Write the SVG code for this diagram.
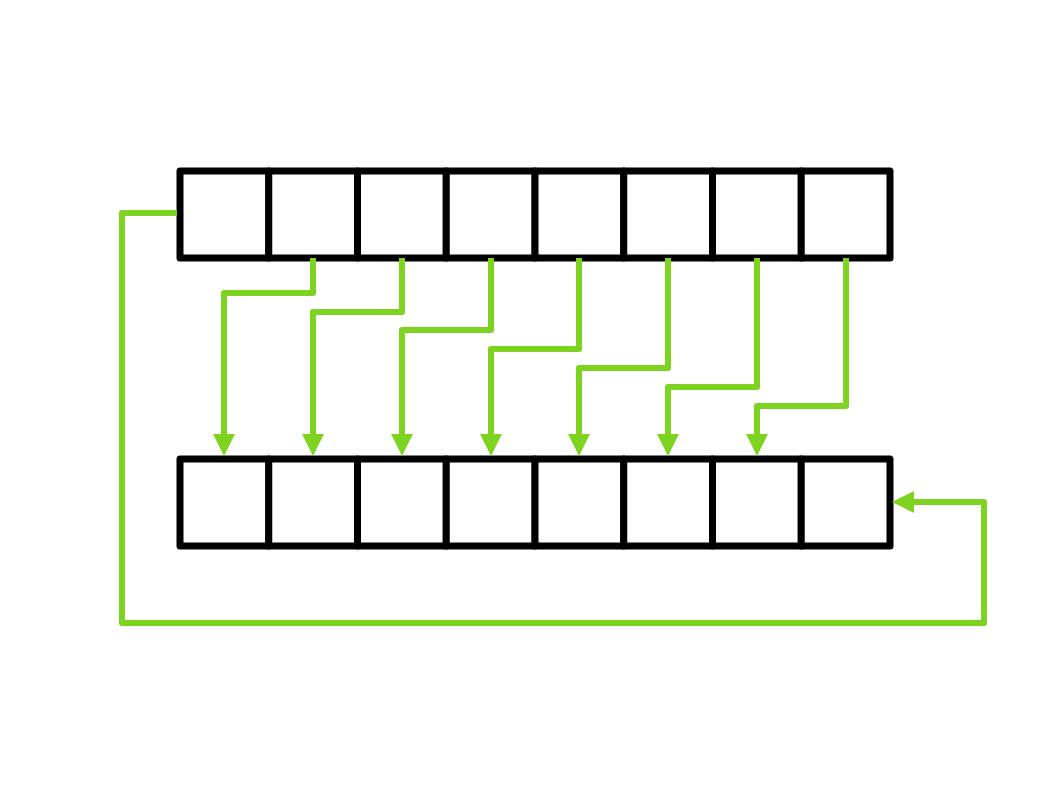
<svg xmlns="http://www.w3.org/2000/svg" width="1058" height="794" viewBox="0 0 1058 794">
<style>
.cell{fill:#fff;stroke:#000;stroke-width:7;stroke-linejoin:round}
.wire{fill:none;stroke:#7ed321;stroke-width:6;stroke-linejoin:round;stroke-linecap:butt}
.head{fill:#7ed321}
</style>
<rect width="1058" height="794" fill="#fff"/>
<g id="top-row">
<rect class="cell" x="180" y="171" width="88.75" height="87"/>
<rect class="cell" x="268.75" y="171" width="88.75" height="87"/>
<rect class="cell" x="357.5" y="171" width="88.75" height="87"/>
<rect class="cell" x="446.25" y="171" width="88.75" height="87"/>
<rect class="cell" x="535" y="171" width="88.75" height="87"/>
<rect class="cell" x="623.75" y="171" width="88.75" height="87"/>
<rect class="cell" x="712.5" y="171" width="88.75" height="87"/>
<rect class="cell" x="801.25" y="171" width="88.75" height="87"/>
</g>
<g id="bottom-row">
<rect class="cell" x="180" y="459" width="88.75" height="87"/>
<rect class="cell" x="268.75" y="459" width="88.75" height="87"/>
<rect class="cell" x="357.5" y="459" width="88.75" height="87"/>
<rect class="cell" x="446.25" y="459" width="88.75" height="87"/>
<rect class="cell" x="535" y="459" width="88.75" height="87"/>
<rect class="cell" x="623.75" y="459" width="88.75" height="87"/>
<rect class="cell" x="712.5" y="459" width="88.75" height="87"/>
<rect class="cell" x="801.25" y="459" width="88.75" height="87"/>
</g>
<g id="connectors">
<path class="wire" d="M313 258 V293 H224 V436"/>
<path class="wire" d="M402 258 V312 H313 V436"/>
<path class="wire" d="M491 258 V330 H402 V436"/>
<path class="wire" d="M579 258 V349 H491 V436"/>
<path class="wire" d="M668 258 V368 H579 V436"/>
<path class="wire" d="M757 258 V387 H668 V436"/>
<path class="wire" d="M846 258 V406 H757 V436"/>
<path class="wire" d="M177 213 H122 V623 H984 V502 H912"/>
<polygon class="head" points="213,434 235,434 224,456"/>
<polygon class="head" points="302,434 324,434 313,456"/>
<polygon class="head" points="391,434 413,434 402,456"/>
<polygon class="head" points="480,434 502,434 491,456"/>
<polygon class="head" points="568,434 590,434 579,456"/>
<polygon class="head" points="657,434 679,434 668,456"/>
<polygon class="head" points="746,434 768,434 757,456"/>
<polygon class="head" points="914,491 914,513 892,502"/>
</g>
</svg>
